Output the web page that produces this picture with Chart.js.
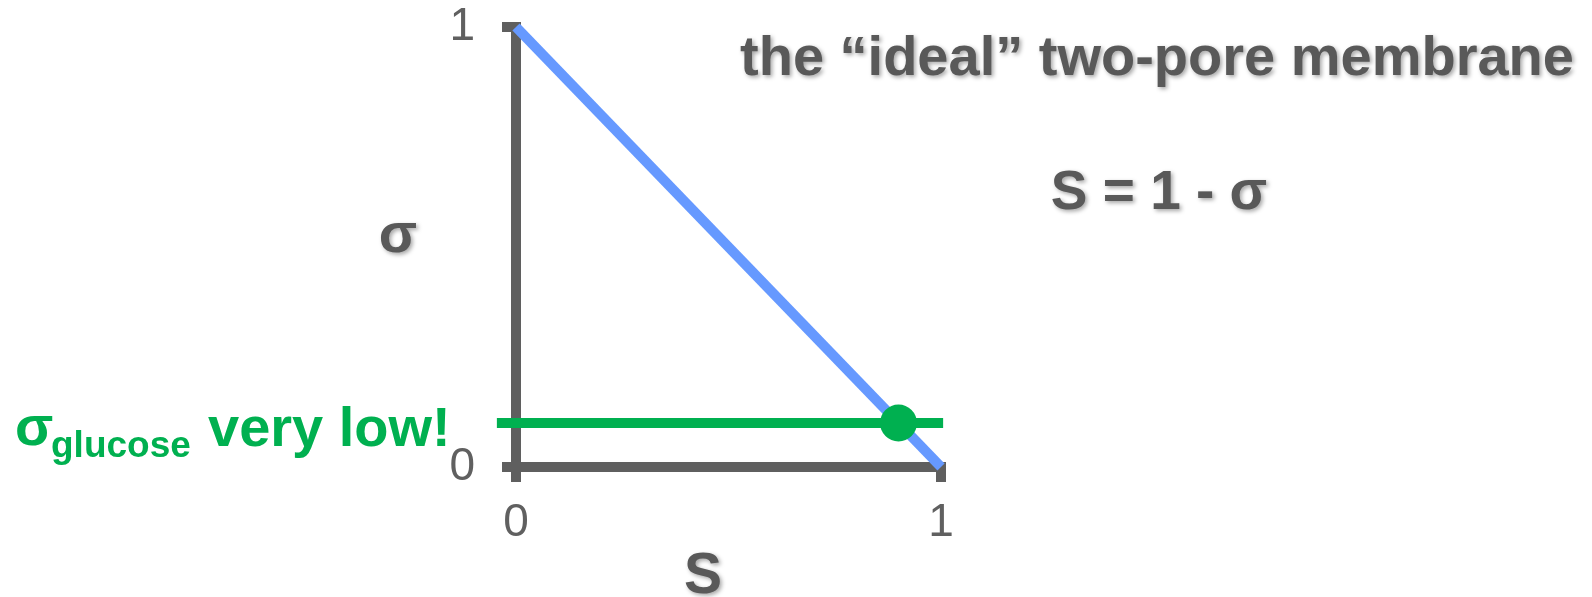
<!DOCTYPE html>
<html>
<head>
<meta charset="utf-8">
<title>ideal two-pore membrane</title>
<script src="https://cdn.jsdelivr.net/npm/chart.js@4/dist/chart.umd.min.js"></script>
<style>
  html, body { margin: 0; padding: 0; background: #ffffff; }
  #wrap { width: 1592px; height: 597px; position: relative; }
</style>
</head>
<body>
<div id="wrap"><canvas id="chart"></canvas></div>
<script>
  // ---- data
  const idealS = [0, 1];
  const idealSigma = [1, 0];
  const glucoseLineS = [-0.045, 1.005];
  const glucoseLineSigma = [0.1, 0.1];
  const glucoseS = [0.9];
  const glucoseSigma = [0.1];
  const sTicks = [0, 1];
  const sigmaTicks = [0, 1];

  const GREY = '#5f5f5f';
  const TEXT_GREY = '#595959';
  const GREEN = '#00b050';
  const BLUE = '#6699ff';
  const FONT = "'Liberation Sans', Arial, sans-serif";

  const toPoints = (xs, ys) => xs.map((x, i) => ({ x, y: ys[i] }));

  // ---- free text on the slide (title, formula, axis names, glucose note)
  const slideText = {
    id: 'slideText',
    afterDraw(chart) {
      const ctx = chart.ctx;
      const shadowed = (text, x, y, size, align) => {
        ctx.save();
        ctx.font = `bold ${size}px ${FONT}`;
        ctx.fillStyle = TEXT_GREY;
        ctx.textAlign = align;
        ctx.textBaseline = 'alphabetic';
        ctx.shadowColor = 'rgba(0,0,0,0.35)';
        ctx.shadowBlur = 4;
        ctx.shadowOffsetX = 2;
        ctx.shadowOffsetY = 2;
        ctx.fillText(text, x, y);
        ctx.restore();
      };
      shadowed('the \u201Cideal\u201D two-pore membrane', 1157, 75, 56, 'center');
      shadowed('S = 1 - \u03C3', 1159, 209, 55, 'center');
      shadowed('\u03C3', 398, 252, 56, 'center');
      shadowed('S', 703, 593, 57, 'center');

      ctx.save();
      ctx.fillStyle = GREEN;
      ctx.textAlign = 'left';
      ctx.textBaseline = 'alphabetic';
      ctx.font = `bold 56px ${FONT}`;
      ctx.fillText('\u03C3', 15, 445);
      ctx.font = `bold 37px ${FONT}`;
      ctx.fillText('glucose', 51, 457);
      ctx.font = `bold 56px ${FONT}`;
      ctx.fillText('very low!', 208, 446);
      ctx.restore();
    }
  };

  const axisGrid = tickLength => ({
    drawOnChartArea: false,
    drawTicks: true,
    tickLength,
    lineWidth: 10,
    tickWidth: 10,
    tickColor: GREY,
    color: GREY
  });

  new Chart(document.getElementById('chart'), {
    type: 'scatter',
    data: {
      datasets: [
        {
          label: 'glucose',
          data: toPoints(glucoseS, glucoseSigma),
          pointRadius: 18.5,
          pointHoverRadius: 18.5,
          backgroundColor: GREEN,
          borderWidth: 0,
          clip: false
        },
        {
          label: 'glucose sigma',
          data: toPoints(glucoseLineS, glucoseLineSigma),
          showLine: true,
          borderColor: GREEN,
          borderWidth: 10,
          pointRadius: 0,
          clip: false
        },
        {
          label: 'S = 1 - sigma',
          data: toPoints(idealS, idealSigma),
          showLine: true,
          borderColor: BLUE,
          borderWidth: 10,
          pointRadius: 0,
          clip: false
        }
      ]
    },
    options: {
      responsive: true,
      maintainAspectRatio: false,
      animation: false,
      layout: { padding: { top: 27, right: 651, left: 0, bottom: 0 } },
      plugins: {
        legend: { display: false },
        tooltip: { enabled: false }
      },
      scales: {
        x: {
          type: 'linear',
          position: 'bottom',
          min: 0,
          max: 1,
          afterBuildTicks: s => { s.ticks = sTicks.map(v => ({ value: v })); },
          afterFit: s => {
            s.height = 130;
            s.paddingLeft = 0;
            s.paddingRight = 0;
          },
          ticks: {
            color: '#606060',
            padding: 18,
            font: { family: FONT, size: 46, lineHeight: 1 }
          },
          grid: axisGrid(15),
          border: { color: GREY, width: 10 }
        },
        y: {
          type: 'linear',
          position: 'left',
          min: 0,
          max: 1,
          afterBuildTicks: s => { s.ticks = sigmaTicks.map(v => ({ value: v })); },
          afterFit: s => {
            s.width = 516;
            s.paddingTop = 0;
            s.paddingBottom = 0;
          },
          ticks: {
            color: '#606060',
            padding: 27,
            font: { family: FONT, size: 46, lineHeight: 1 }
          },
          grid: axisGrid(14),
          border: { color: GREY, width: 10 }
        }
      }
    },
    plugins: [slideText]
  });
</script>
</body>
</html>
